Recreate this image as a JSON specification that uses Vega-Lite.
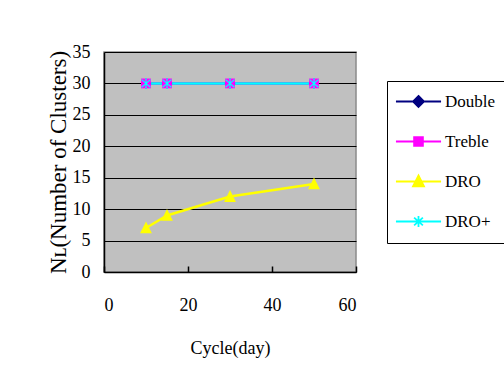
{
  "$schema": "https://vega.github.io/schema/vega-lite/v6.json",
  "width": 252,
  "height": 220,
  "autosize": {"type": "none"},
  "padding": {"left": 104, "top": 52, "right": 148, "bottom": 120},
  "background": "white",
  "config": {
    "view": {"fill": "#C0C0C0", "stroke": "#8a8a8a", "strokeWidth": 1.5},
    "font": "Liberation Serif",
    "axis": {"labelFont": "Liberation Serif", "titleFont": "Liberation Serif", "labelColor": "black", "titleColor": "black", "titleFontWeight": "normal", "domainColor": "black", "domainWidth": 1.5}
  },
  "data": {"values": [
    {"series": "Double", "cycle": 10, "n": 30},
    {"series": "Double", "cycle": 15, "n": 30},
    {"series": "Double", "cycle": 30, "n": 30},
    {"series": "Double", "cycle": 50, "n": 30},
    {"series": "Treble", "cycle": 10, "n": 30},
    {"series": "Treble", "cycle": 15, "n": 30},
    {"series": "Treble", "cycle": 30, "n": 30},
    {"series": "Treble", "cycle": 50, "n": 30},
    {"series": "DRO", "cycle": 10, "n": 7},
    {"series": "DRO", "cycle": 15, "n": 9},
    {"series": "DRO", "cycle": 30, "n": 12},
    {"series": "DRO", "cycle": 50, "n": 14},
    {"series": "DRO+", "cycle": 10, "n": 30},
    {"series": "DRO+", "cycle": 15, "n": 30},
    {"series": "DRO+", "cycle": 30, "n": 30},
    {"series": "DRO+", "cycle": 50, "n": 30}
  ]},
  "encoding": {
    "x": {"field": "cycle", "type": "quantitative",
      "scale": {"domain": [0, 60], "nice": false},
      "axis": {"values": [0, 20, 40, 60], "grid": false, "tickSize": -6, "tickColor": "black", "tickWidth": 1.5, "labelPadding": 30, "labelFontSize": 18, "title": "Cycle(day)", "titleFontSize": 18, "titlePadding": 25}},
    "y": {"field": "n", "type": "quantitative",
      "scale": {"domain": [0, 35], "nice": false},
      "axis": {"values": [0, 5, 10, 15, 20, 25, 30, 35], "grid": true, "gridColor": "black", "gridWidth": 1.2, "gridOpacity": 1, "ticks": false, "tickSize": 0, "labelPadding": 14, "labelFontSize": 18, "title": "Nʟ(Number of Clusters)", "titleFontSize": 23, "titlePadding": 2}}
  },
  "layer": [
    {
      "mark": {"type": "line", "strokeWidth": 2.5},
      "encoding": {
        "color": {"field": "series", "type": "nominal", "sort": null,
          "scale": {"domain": ["Double", "Treble", "DRO", "DRO+"], "range": ["#000080", "#FF00FF", "#FFFF00", "#00FFFF"]},
          "legend": {
            "orient": "none", "legendX": 283, "legendY": 29,
            "title": null,
            "strokeColor": "black", "fillColor": "white", "padding": 12,
            "symbolSize": 121, "symbolOffset": 11, "labelOffset": 18,
            "labelFont": "Liberation Serif", "labelFontSize": 17, "labelColor": "black",
            "rowPadding": 21,
            "symbolStrokeWidth": 1.8,
            "encode": {
              "symbols": {"update": {
                "shape": {"signal": "datum.value === 'Double' ? 'M-4.1,0L4.1,0M0,-1L1,0L0,1L-1,0Z' : datum.value === 'Treble' ? 'M-4.1,0L4.1,0M-0.8,-0.8L0.8,-0.8L0.8,0.8L-0.8,0.8Z' : datum.value === 'DRO' ? 'M-4.1,0L4.1,0M0,-1.1L1,0.9L-1,0.9Z' : 'M-4.1,0L4.1,0M0,-1L0,1M-0.8,-0.7L0.8,0.7M-0.8,0.7L0.8,-0.7'"},
                "fill": {"scale": "color", "field": "value"},
                "stroke": {"scale": "color", "field": "value"},
                "strokeWidth": {"value": 1.8},
                "opacity": {"value": 1}
              }}
            }
          }
        }
      }
    },
    {
      "transform": [{"filter": "datum.series === 'Double'"}],
      "mark": {"type": "point", "shape": "M0,-1L1,0L0,1L-1,0Z", "filled": true, "color": "#000080", "size": 110, "opacity": 1}
    },
    {
      "transform": [{"filter": "datum.series === 'Treble'"}],
      "mark": {"type": "point", "shape": "M-0.8,-0.8L0.8,-0.8L0.8,0.8L-0.8,0.8Z", "filled": true, "color": "#FF00FF", "size": 150, "opacity": 1}
    },
    {
      "transform": [{"filter": "datum.series === 'DRO'"}],
      "mark": {"type": "point", "shape": "M0,-1.1L1,0.9L-1,0.9Z", "filled": true, "color": "#FFFF00", "size": 140, "opacity": 1}
    },
    {
      "transform": [{"filter": "datum.series === 'DRO+'"}],
      "mark": {"type": "point", "shape": "M0,-1L0,1M-0.8,-0.7L0.8,0.7M-0.8,0.7L0.8,-0.7", "filled": false, "color": "#00FFFF", "strokeWidth": 1.2, "size": 121, "opacity": 1}
    }
  ]
}
